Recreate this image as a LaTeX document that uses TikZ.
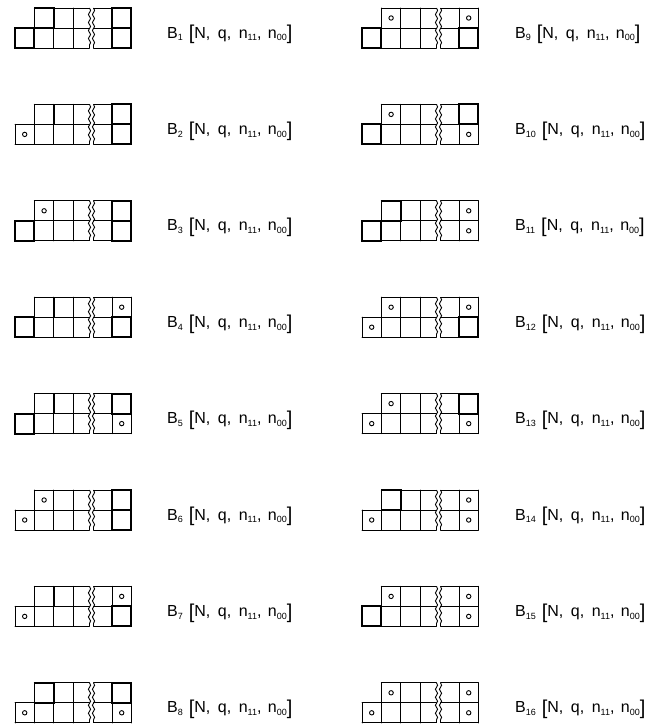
\documentclass[tikz,border=0pt]{standalone}
\usepackage{fontspec}
\setmainfont{Liberation Sans}
\usetikzlibrary{decorations.pathmorphing}

\newcommand\lsub[1]{\raisebox{-0.35ex}{\fontsize{9}{9}\selectfont #1}}
\newcommand\lbr[1]{\raisebox{-0.12em}{\fontsize{20}{20}\selectfont #1}}
\newcommand\blabel[1]{B\lsub{#1}\hspace{6pt}\lbr{[}N,\hspace{7.5pt}q,\hspace{7.5pt}n\lsub{11},\hspace{6.5pt}n\lsub{00}\lbr{]}}

\tikzset{
  gridline/.style={line width=0.9pt, line cap=round},
  boldcell/.style={line width=2.0pt, line join=miter},
  semibold/.style={line width=1.4pt, line join=miter},
  ring/.style={line width=0.9pt},
  brk/.style={line width=0.9pt, decorate, decoration={snake, segment length=8pt, amplitude=1.1pt}},
  lab/.style={anchor=base west, inner sep=0pt, font=\fontsize{16}{16}\selectfont}
}

% #1 x0, #2 y0, #3 L, #4 T1, #5 TR, #6 BR  (1 = circle, 0 = bold cell)
\newcommand\latstrip[6]{%
  \begin{scope}[shift={(#1,#2)}]
    \draw[gridline] (19.4,0) -- (74.5,0) (78.5,0) -- (116.4,0);
    \draw[gridline] (0,20) -- (74.5,20) (78.5,20) -- (116.4,20);
    \draw[gridline] (0,40) -- (74.5,40) (78.5,40) -- (116.4,40);
    \draw[gridline] (0,20) -- (0,40);
    \foreach \xx in {19.4,38.8,58.2,97,116.4} \draw[gridline] (\xx,0) -- (\xx,40);
    \draw[brk] (74.5,0) -- (74.5,40);
    \draw[brk] (78.5,0) -- (78.5,40);
    \ifnum#3=1 \draw[ring] (9.7,30) circle (2.2); \else \draw[boldcell] (0,20) rectangle (19.4,40); \fi
    \ifnum#4=1 \draw[ring] (29.1,10) circle (2.2); \else \draw[semibold] (19.4,0) rectangle (38.8,20); \fi
    \ifnum#5=1 \draw[ring] (106.7,10) circle (2.2); \else \draw[boldcell] (97,0) rectangle (116.4,20); \fi
    \ifnum#6=1 \draw[ring] (106.7,30) circle (2.2); \else \draw[boldcell] (97,20) rectangle (116.4,40); \fi
  \end{scope}}

\begin{document}
\begin{tikzpicture}[x=1pt, y=-1pt]
\useasboundingbox (0,0) rectangle (661,725);
\fill[white] (0,0) rectangle (661,725);

% left column
\latstrip{15}{8}{0}{0}{0}{0}
\latstrip{15}{104.4}{1}{0}{0}{0}
\latstrip{15}{200.8}{0}{1}{0}{0}
\latstrip{15}{297.2}{0}{0}{1}{0}
\latstrip{15}{393.6}{0}{0}{0}{1}
\latstrip{15}{490}{1}{1}{0}{0}
\latstrip{15}{586.4}{1}{0}{1}{0}
\latstrip{15}{682.8}{1}{0}{0}{1}

% right column
\latstrip{362}{8}{0}{1}{1}{0}
\latstrip{362}{104.4}{0}{1}{0}{1}
\latstrip{362}{200.8}{0}{0}{1}{1}
\latstrip{362}{297.2}{1}{1}{1}{0}
\latstrip{362}{393.6}{1}{1}{0}{1}
\latstrip{362}{490}{1}{0}{1}{1}
\latstrip{362}{586.4}{0}{1}{1}{1}
\latstrip{362}{682.8}{1}{1}{1}{1}

% labels
\node[lab] (b1) at (167,38) {\blabel{1}};
\node[lab] (b2) at (167,134.4) {\blabel{2}};
\node[lab] (b3) at (167,230.8) {\blabel{3}};
\node[lab] (b4) at (167,327.2) {\blabel{4}};
\node[lab] (b5) at (167,423.6) {\blabel{5}};
\node[lab] (b6) at (167,520) {\blabel{6}};
\node[lab] (b7) at (167,616.4) {\blabel{7}};
\node[lab] (b8) at (167,712.8) {\blabel{8}};

\node[lab] (b9) at (515,38) {\blabel{9}};
\node[lab] (b10) at (515,134.4) {\blabel{10}};
\node[lab] (b11) at (515,230.8) {\blabel{11}};
\node[lab] (b12) at (515,327.2) {\blabel{12}};
\node[lab] (b13) at (515,423.6) {\blabel{13}};
\node[lab] (b14) at (515,520) {\blabel{14}};
\node[lab] (b15) at (515,616.4) {\blabel{15}};
\node[lab] (b16) at (515,712.8) {\blabel{16}};
\end{tikzpicture}
\end{document}
